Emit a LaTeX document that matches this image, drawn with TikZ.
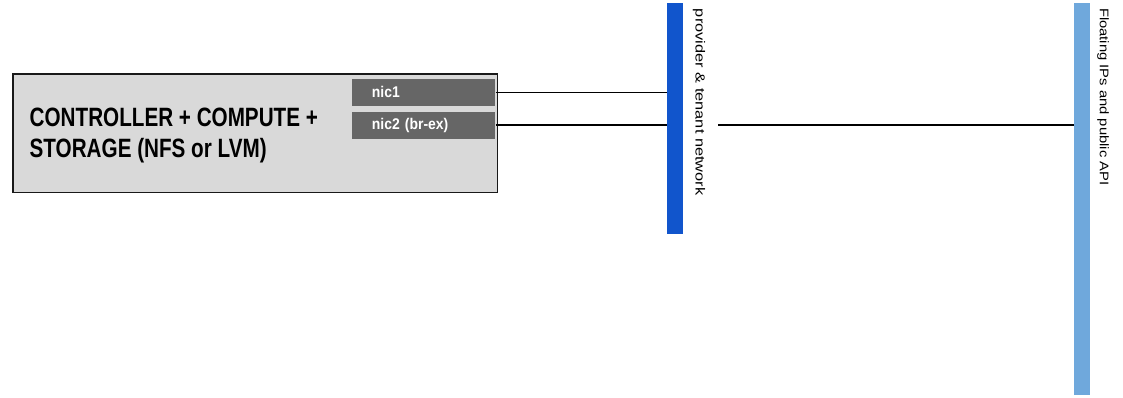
\documentclass[tikz,border=0pt]{standalone}
\usepackage{fontspec}
\setmainfont{Liberation Sans}
\newfontfamily\condfont[FakeStretch=0.78]{Liberation Sans}
\newfontfamily\nicfont[FakeStretch=0.9]{Liberation Sans}
\newfontfamily\providerfont[FakeStretch=1.24]{Liberation Sans}
\newfontfamily\floatfont[FakeStretch=1.18]{Liberation Sans}
\usepackage{tikz}
\usetikzlibrary{positioning}
\definecolor{hostgray}{HTML}{D9D9D9}
\definecolor{nicgray}{HTML}{666666}
\definecolor{netblue}{HTML}{1155CC}
\definecolor{netlight}{HTML}{6FA8DC}
\tikzset{
    host/.style={rectangle, draw=black!90, line width=1.8pt, fill=hostgray, minimum width=484.5pt, minimum height=118.5pt, anchor=north west},
    hosttext/.style={anchor=north west, align=left, inner sep=0pt, font=\condfont\bfseries\fontsize{26.5}{31}\selectfont},
    nic/.style={rectangle, fill=nicgray, text=white, font=\nicfont\bfseries\fontsize{15.5}{15.5}\selectfont, minimum width=143.5pt, minimum height=26.5pt, inner xsep=20pt, inner ysep=0pt, text width=103.5pt, align=left, anchor=north west},
    bar/.style={rectangle, minimum width=15.5pt, inner sep=0pt, anchor=north west},
    netlabel/.style={rotate=-90, anchor=base west, inner sep=0pt},
    link/.style={line width=1.8pt},
}

\begin{document}
\begin{tikzpicture}[x=1pt,y=-1pt]
  \useasboundingbox (0,0) rectangle (1123,398);

  \node[host]     (ctrl)     at (12,73)    {};
  \node[hosttext] (ctrltext) at (29.5,107.5) {CONTROLLER + COMPUTE +\\STORAGE (NFS or LVM)};
  \node[nic]      (nic1)     at (351.7,79)  {nic1};
  \node[nic, below=6pt of nic1] (nic2) {nic2 (br-ex)};

  \node[bar, fill=netblue]  (provider) [minimum height=230.5pt] at (666.8,2.8) {};
  \node[bar, fill=netlight] (floating) [minimum height=392pt]   at (1074,3)    {};

  \node[below right=6pt and 13pt of provider.north east, netlabel, font=\providerfont\fontsize{13.2}{14}\selectfont] (providerlabel) {provider \& tenant network};
  \node[below right=5pt and 10pt of floating.north east, netlabel, font=\floatfont\fontsize{12.5}{13}\selectfont] (floatinglabel) {Floating IPs and public API};

  \coordinate[right=35.7pt of provider.east |- nic2.east] (wanfree);

  \draw[link] (nic1.east) -- (nic1.east -| provider.west);
  \draw[link] (nic2.east) -- (nic2.east -| provider.west);
  \draw[link] (wanfree) -- (wanfree -| floating.west);
\end{tikzpicture}
\end{document}
